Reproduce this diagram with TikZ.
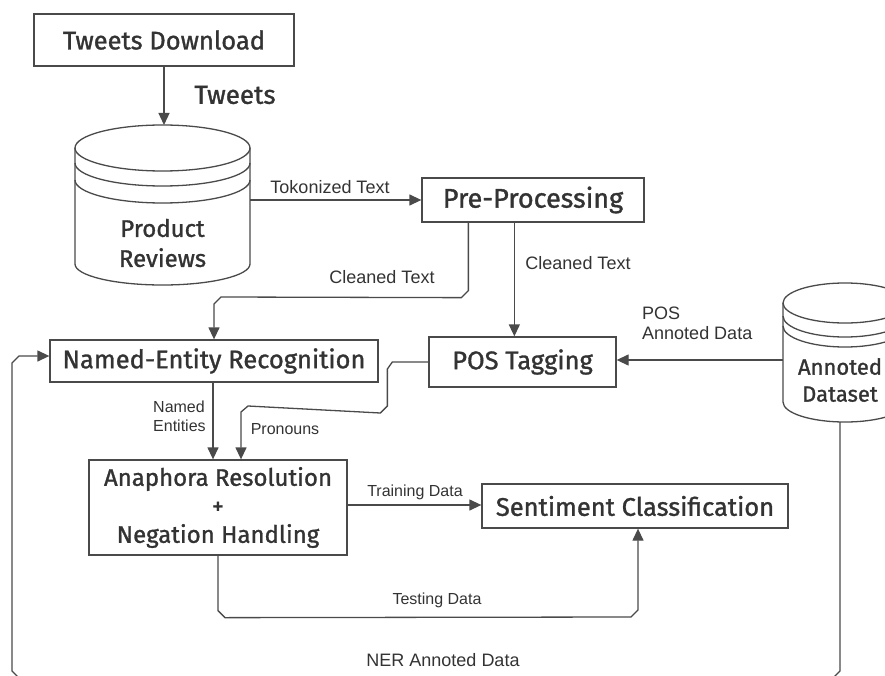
\documentclass[tikz,border=0pt]{standalone}
\usepackage{fontspec}
\setmainfont{Liberation Sans}
\newfontfamily\boxfont[FakeBold=1.2]{Fira Sans}
\usetikzlibrary{arrows.meta,calc}
\definecolor{ln}{HTML}{4A4A4A}
\definecolor{tx}{HTML}{333333}
\begin{document}
\begin{tikzpicture}[x=1pt,y=-1pt,
  box/.style={draw=ln, line width=1.3pt, text=tx, font=\boxfont\fontsize{25.5}{28.5}\selectfont, inner sep=0pt, align=center},
  btext/.style={text=tx, font=\boxfont\fontsize{24}{30}\selectfont, inner sep=0pt, align=center},
  lab/.style={text=tx, font=\fontsize{18}{20}\selectfont, inner sep=0pt, align=left},
  slab/.style={text=tx, font=\fontsize{16}{18.5}\selectfont, inner sep=0pt, align=left},
  conn/.style={draw=ln, line width=1.3pt},
  arr/.style={conn, -{Triangle[length=12pt,width=11pt]}}]
\useasboundingbox (0,0) rectangle (885,676);
\clip (0,0) rectangle (885,676);

% boxes
\node[box, minimum width=260pt, minimum height=52pt] (tw) at (164,40) {Tweets Download};
\node[box, minimum width=222pt, minimum height=44pt, font=\boxfont\fontsize{27}{30}\selectfont] (pp) at (533,200) {Pre-Processing};
\node[box, minimum width=328pt, minimum height=42pt] (ner) at (214,361) {Named-Entity Recognition};
\node[box, minimum width=187pt, minimum height=50pt] (pos) at (522.5,362) {POS Tagging};
\node[box, minimum width=258pt, minimum height=95pt, font=\boxfont\fontsize{24}{28.5}\selectfont] (ana) at (218,507.5) {Anaphora Resolution\\+\\Negation Handling};
\node[box, minimum width=306pt, minimum height=44pt] (sc) at (635,506) {Sentiment Classification};

% Product Reviews cylinder
\begin{scope}[conn]
  \draw (162.5,148) ellipse [x radius=87.5pt, y radius=23pt];
  \draw (75,163) arc [start angle=180, end angle=360, x radius=87.5pt, y radius=23pt];
  \draw (75,180) arc [start angle=180, end angle=360, x radius=87.5pt, y radius=23pt];
  \draw (75,148) -- (75,264) arc [start angle=180, end angle=360, x radius=87.5pt, y radius=21pt] -- (250,148);
\end{scope}
\node[btext] (pr) at (162.5,243) {Product\\Reviews};
\coordinate (prT) at (162.5,125);
\coordinate (prR) at (250,200);

% Annoted Dataset cylinder
\begin{scope}[conn]
  \draw (845,303) ellipse [x radius=62pt, y radius=20pt];
  \draw (783,316) arc [start angle=180, end angle=360, x radius=62pt, y radius=21pt];
  \draw (783,326) arc [start angle=180, end angle=360, x radius=62pt, y radius=21pt];
  \draw (783,303) -- (783,402) arc [start angle=180, end angle=360, x radius=62pt, y radius=20pt] -- (907,303);
\end{scope}
\node[btext, font=\boxfont\fontsize{22}{27}\selectfont] (ad) at (840,380) {Annoted\\Dataset};
\coordinate (adL) at (783,360);
\coordinate (adB) at (840,422);

% connectors
\draw[arr] (tw.south) -- (tw.south |- prT);
\node[btext, font=\boxfont\fontsize{26}{30}\selectfont] (twl) at (235,95) {Tweets};

\draw[arr] (prR) -- (pp.west |- prR);
\node[lab] (l1) at (330,187) {Tokonized Text};

\draw[arr] ($(pp.south west)+(47,0)$) -- ++(0,68) -- ++(-7,7) -- ($(ner.north |- 0,297)+(7,0)$) -- ($(ner.north |- 0,297)+(0,7)$) -- (ner.north);
\node[lab] (l2) at (382,277) {Cleaned Text};

\draw[arr] ($(pp.south west)+(93,0)$) -- ($(pos.north west)+(86,0)$);
\node[lab] (l3) at (578,263) {Cleaned Text};

\draw[arr] (adL) -- (pos.east |- adL);
\node[lab, anchor=north west] (l4) at (642,307) {POS\\Annoted Data};

\draw[arr] (ner.south -| 213,0) -- (ana.north -| 213,0);
\node[slab, anchor=north west] (l5) at (153,401) {Named\\Entities};

\draw[arr] (pos.west) -- ++(-36,0) -- ++(-5,7) -- ++(0,37) -- ++(-7,7) -- ($(ana.north |- 0,406)+(30,0)$) -- ++(-7,6) -- ($(ana.north)+(23,0)$);
\node[slab] (l6) at (285,429) {Pronouns};

\draw[arr] (ana.east |- 0,505) -- (sc.west |- 0,505);
\node[slab] (l7) at (415,492) {Training Data};

\draw[arr] (ana.south) -- ++(0,55) -- ++(7,7) -- ($(sc.south |- 0,617)+(-4,0)$) -- ($(sc.south |- 0,610)+(3,0)$) -- ($(sc.south)+(3,0)$);
\node[slab] (l8) at (437,600) {Testing Data};

\draw[arr] (adB) -- (840,671) -- (833,678) -- (19,678) -- (12,671) -- (12,363) -- (19,356) -- ($(ner.west)+(0,-5)$);
\node[lab] (l9) at (443,660) {NER Annoted Data};
\end{tikzpicture}
\end{document}
